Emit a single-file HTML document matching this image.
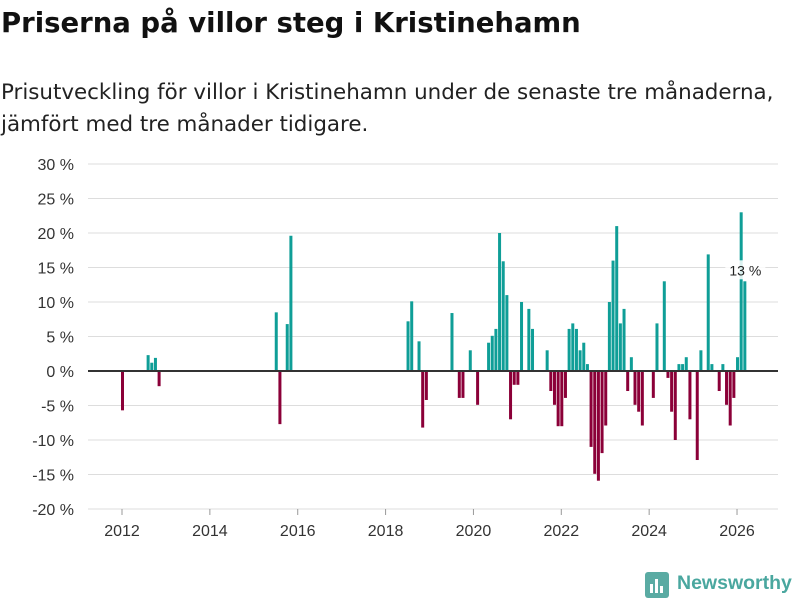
<!DOCTYPE html>
<html><head><meta charset="utf-8"><style>
body{margin:0;width:800px;height:600px;background:#fff;font-family:"Liberation Sans","DejaVu Sans",sans-serif;overflow:hidden;position:relative}
h1{position:absolute;left:1px;top:7px;margin:0;font-family:"DejaVu Sans",sans-serif;font-size:27.5px;font-weight:bold;color:#111;letter-spacing:0px}
.sub{position:absolute;left:1px;top:77px;margin:0;font-family:"DejaVu Sans",sans-serif;font-size:21.4px;line-height:32px;color:#222;letter-spacing:0px}
svg{position:absolute;left:0;top:0}
</style></head><body>
<h1>Priserna på villor steg i Kristinehamn</h1>
<p class="sub">Prisutveckling för villor i Kristinehamn under de senaste tre månaderna,<br>jämfört med tre månader tidigare.</p>
<svg width="800" height="600" id="chart"></svg>
<script>
const months=["2012-01","2012-08","2012-09","2012-10","2012-11","2015-07","2015-08","2015-10","2015-11","2018-07","2018-08","2018-10","2018-11","2018-12","2019-07","2019-09","2019-10","2019-12","2020-02","2020-05","2020-06","2020-07","2020-08","2020-09","2020-10","2020-11","2020-12","2021-01","2021-02","2021-04","2021-05","2021-09","2021-10","2021-11","2021-12","2022-01","2022-02","2022-03","2022-04","2022-05","2022-06","2022-07","2022-08","2022-09","2022-10","2022-11","2022-12","2023-01","2023-02","2023-03","2023-04","2023-05","2023-06","2023-07","2023-08","2023-09","2023-10","2023-11","2024-02","2024-03","2024-05","2024-06","2024-07","2024-08","2024-09","2024-10","2024-11","2024-12","2025-02","2025-03","2025-05","2025-06","2025-08","2025-09","2025-10","2025-11","2025-12","2026-01","2026-02","2026-03"];
const values=[-5.7,2.3,1.2,1.9,-2.2,8.5,-7.7,6.8,19.6,7.2,10.1,4.3,-8.2,-4.2,8.4,-3.9,-3.9,3,-4.9,4.1,5.1,6.1,20,15.9,11,-7,-2,-2,10,9,6.1,3,-2.9,-4.9,-8,-8,-3.9,6.1,6.9,6.1,3,4.1,1,-11,-14.9,-15.9,-11.9,-7.9,10,16,21,6.9,9,-2.9,2,-4.9,-5.9,-7.9,-3.9,6.9,13,-1,-5.9,-10,1,1,2,-7,-12.9,3,16.9,1,-2.9,1,-4.9,-7.9,-3.9,2,23,13];
const yTicks=[30,25,20,15,10,5,0,-5,-10,-15,-20];
const xTicks=[2012,2014,2016,2018,2020,2022,2024,2026];
const NS="http://www.w3.org/2000/svg";
const svg=document.getElementById('chart');
function yS(v){return 371-v*6.9;}
function xS(ym){const p=ym.split('-');const m=(+p[0]-2012)*12+(+p[1]-1);return 122+m*43.93/12;}
function mk(t,a){const e=document.createElementNS(NS,t);for(const k in a)e.setAttribute(k,a[k]);svg.appendChild(e);return e;}
yTicks.forEach(v=>{
 const l=mk('line',{x1:88,x2:778,y1:yS(v),y2:yS(v),stroke:'#ddd','stroke-width':1});
 
 
 const t=mk('text',{x:74,y:yS(v)+6,'text-anchor':'end','font-size':16,fill:'#333'});
 t.textContent=v+' %';
 
 
});
xTicks.forEach(yr=>{
 const x=xS(yr+'-01');
 const tk=mk('line',{x1:x,x2:x,y1:509,y2:515,stroke:'#999','stroke-width':1});
 
 
 const t=mk('text',{x:x,y:536,'text-anchor':'middle','font-size':16,fill:'#333'});
 t.textContent=yr;
 
 
});
months.forEach((m,i)=>{
 const v=values[i];const c=xS(m)+0.5;
 const r=mk('rect',{x:c-1.5,width:3,y:Math.min(yS(v),yS(0)),height:Math.abs(yS(v)-yS(0)),fill:v>=0?'#0f9e97':'#8b0038'});
 
 
});
const z=mk('line',{x1:88,x2:778,y1:yS(0),y2:yS(0),stroke:'#333','stroke-width':2});


const li=months.length-1;
const bg=mk('rect',{x:xS(months[li])-19,y:yS(values[li])-21,width:40,height:19,fill:'#fff','fill-opacity':0.85});


const an=mk('text',{x:xS(months[li])+1,y:yS(values[li])-6,'text-anchor':'middle','font-size':14,fill:'#222'});
an.textContent=Math.round(values[li])+' %';


</script>
<svg width="800" height="600" style="pointer-events:none">
 <rect x="645" y="572" width="24" height="26" rx="3" fill="#5aaba3"/>
 <rect x="650" y="584" width="3" height="9" fill="#fff"/><rect x="655" y="579" width="3" height="14" fill="#fff"/><rect x="660" y="586" width="3" height="7" fill="#fff"/>
 <text x="677" y="589" font-size="19.5" font-weight="bold" fill="#4aa79f">Newsworthy</text>
</svg>
</body></html>
